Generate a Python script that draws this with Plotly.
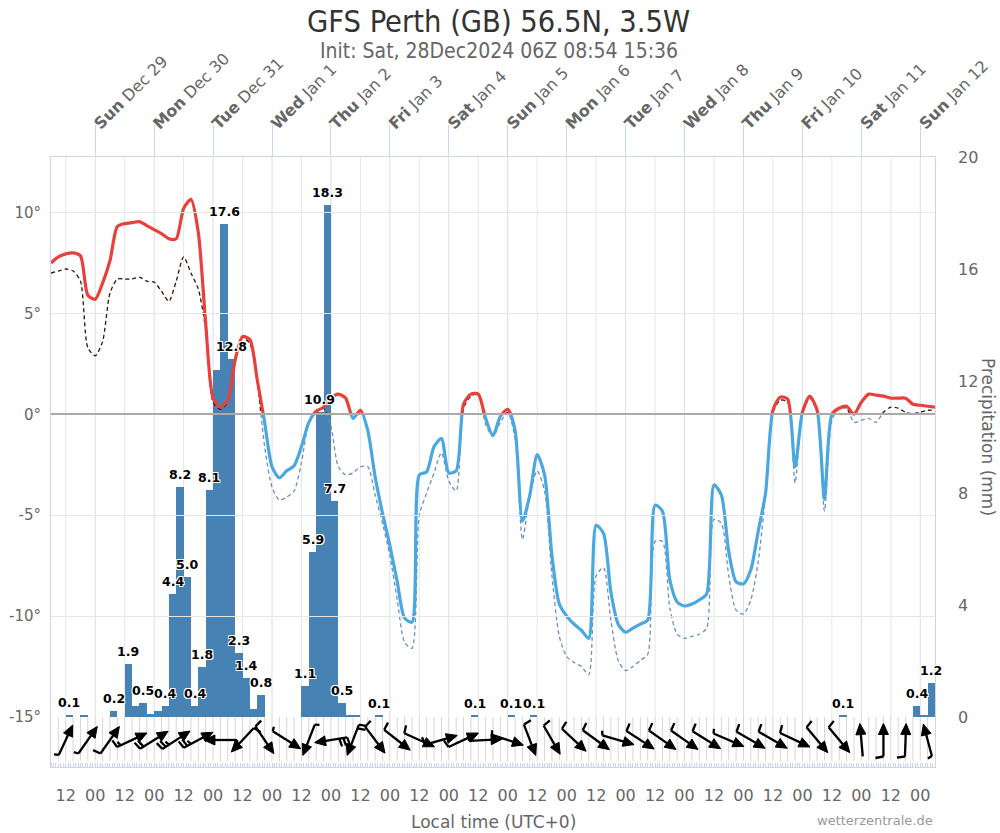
import math
import plotly.graph_objects as go

# ---------------- data ----------------
TITLE = "GFS Perth (GB) 56.5N, 3.5W"
SUBTITLE = "Init: Sat, 28Dec2024 06Z 08:54 15:36"
SOURCE = "wetterzentrale.de"
PRECIP_TITLE = "Precipitation (mm)"
TIME_TITLE = "Local time (UTC+0)"

# hours since init (Sat 28 Dec 2024 06Z), 3-hourly
step_h = 3
temp_c = [7.5, 7.8, 7.95, 8.0, 7.85, 5.9, 5.7, 6.5, 7.6, 9.3,
          9.45, 9.5, 9.55, 9.35, 9.15, 8.95, 8.7, 8.7, 10.2, 10.65,
          9.0, 4.5, 0.8, 0.35, 0.7, 2.7, 3.85, 3.7, 1.7, -0.4,
          -2.6, -3.15, -2.8, -2.55, -1.6, -0.4, 0.15, 0.35, 0.8, 1.0,
          0.8, -0.2, 0.2, -0.8, -3.1, -4.9, -6.5, -8.3, -10.1, -10.3,
          -3.0, -2.85, -1.6, -1.2, -2.9, -2.8, 0.5, 1.0, 1.0, -0.2,
          -1.05, -0.1, 0.25, -0.8, -5.3, -4.0, -2.0, -3.0, -7.0, -9.4,
          -10.0, -10.4, -10.7, -11.1, -5.5, -5.9, -8.8, -10.4, -10.8, -10.6,
          -10.4, -10.2, -4.5, -4.8, -8.2, -9.3, -9.5, -9.4, -9.2, -8.9,
          -3.5, -4.0, -6.8, -8.3, -8.4, -7.7, -5.8, -3.9, 0.2, 0.85,
          0.75, -2.6, 0.1, 0.9, 0.2, -4.2, 0.0, 0.3, 0.4, 0.0,
          0.6, 1.0, 0.95, 0.9, 0.8, 0.8, 0.8, 0.5, 0.45, 0.4,
          0.35]
dew_c = [7.0, 7.1, 7.2, 7.1, 6.6, 3.3, 2.9, 3.6, 6.0, 6.7,
         6.7, 6.7, 6.8, 6.6, 6.55, 6.1, 5.6, 6.6, 7.8, 7.0,
         6.2, 4.2, 0.6, 0.25, 0.6, 2.6, 3.8, 3.5, 1.6, -1.6,
         -3.6, -4.25, -4.1, -3.8, -2.4, -0.4, 0.1, 0.3, -0.6, -2.6,
         -3.0, -2.9, -2.6, -2.6, -4.0, -5.4, -7.0, -9.2, -11.3, -11.6,
         -5.0, -3.9, -2.9, -1.9, -3.3, -3.8, 0.3, 0.9, 1.0, -0.5,
         -1.1, -0.4, 0.1, -1.2, -6.2, -4.0, -2.8, -3.8, -8.0, -11.0,
         -12.0, -12.3, -12.5, -12.9, -8.0, -7.6, -10.2, -12.2, -12.7, -12.5,
         -12.2, -11.9, -6.3, -6.3, -9.6, -10.9, -11.1, -11.0, -10.9, -10.6,
         -5.2, -5.4, -8.0, -9.7, -9.9, -9.2, -7.3, -4.0, 0.1, 0.7,
         0.6, -3.4, 0.0, 0.8, 0.1, -4.8, -0.3, 0.3, 0.3, -0.4,
         -0.3, -0.2, -0.4, 0.1, 0.35, 0.3, 0.1, 0.03, 0.1, 0.2,
         0.2]
hours = [i * step_h for i in range(len(temp_c))]

# 3-hour precipitation totals (bar k covers hours 3k..3k+3)
precip_mm = [0, 0, 0.07, 0, 0.07, 0, 0, 0, 0.2, 0,
             1.9, 0.4, 0.5, 0.1, 0.2, 0.4, 4.4, 8.2, 5.0, 0.4,
             1.8, 8.1, 12.4, 17.6, 12.8, 2.3, 1.4, 0.3, 0.8, 0,
             0, 0, 0, 0, 1.1, 5.9, 10.9, 18.3, 7.7, 0.5,
             0.06, 0.06, 0, 0, 0.05, 0, 0, 0, 0, 0,
             0, 0, 0, 0, 0, 0, 0, 0.05, 0, 0,
             0, 0, 0.05, 0, 0, 0.05, 0, 0, 0, 0,
             0, 0, 0, 0, 0, 0, 0, 0, 0, 0,
             0, 0, 0, 0, 0, 0, 0, 0, 0, 0,
             0, 0, 0, 0, 0, 0, 0, 0, 0, 0,
             0, 0, 0, 0, 0, 0, 0, 0.05, 0, 0,
             0, 0, 0, 0, 0, 0, 0, 0.4, 0.06, 1.2]
bar_start_h = [k * step_h for k in range(len(precip_mm))]
labeled_bars = [2, 8, 10, 12, 15, 16, 17, 18, 19, 20, 21, 23, 24, 25, 26, 28,
                34, 35, 36, 37, 38, 39, 44, 57, 62, 65, 107, 117, 119]

# wind arrows (direction the arrow points to, degrees clockwise from north; speed in kt)
wind_hours = list(range(6, 360, 9))
wind_to_deg = [25, 35, 35, 65, 58, 57, 62, 270, 223, 146,
               122, 201, 261, 201, 143, 128, 114, 74, 65, 87,
               108, 159, 150, 133, 126, 106, 123, 125, 125, 122,
               113, 120, 120, 115, 140, 140, 355, 0, 2, 345]
wind_kt = [5, 5, 10, 15, 20, 25, 25, 10, 10, 10,
           5, 5, 30, 20, 10, 10, 10, 10, 10, 10,
           5, 10, 10, 10, 10, 5, 10, 10, 10, 10,
           5, 10, 10, 10, 10, 10, 3, 10, 10, 5]

# axis labels
time_tick_h = list(range(6, 360, 12))
time_tick_text = ["12" if i % 2 == 0 else "00" for i in range(len(time_tick_h))]
day_tick_h = list(range(18, 360, 24))
day_names = ["Sun", "Mon", "Tue", "Wed", "Thu", "Fri", "Sat",
             "Sun", "Mon", "Tue", "Wed", "Thu", "Fri", "Sat", "Sun"]
day_dates = ["Dec 29", "Dec 30", "Dec 31", "Jan 1", "Jan 2", "Jan 3", "Jan 4",
             "Jan 5", "Jan 6", "Jan 7", "Jan 8", "Jan 9", "Jan 10", "Jan 11", "Jan 12"]
temp_ticks = [-15, -10, -5, 0, 5, 10]
precip_ticks = [0, 4, 8, 12, 16, 20]

# ---------------- layout geometry ----------------
W, H = 1000, 833
ML, MR, MT, MB = 51, 65, 157, 66
PW, PH = W - ML - MR, H - MT - MB
STRIP = 50
d0 = STRIP / PH
T_MIN, T_MAX = -15, 12.75
f0 = d0 + (1 - d0) * (0 - T_MIN) / (T_MAX - T_MIN)
X_MAX = 360

RED = "#e8403a"
BLUE = "#4aa8de"
DEW_WARM = "#3a0c0c"
DEW_COLD = "#6b8ec0"
BAR = "rgb(70,130,180)"
AXC = "#ccd6eb"
FONT = "DejaVu Sans, Verdana, sans-serif"
COND = "DejaVu Sans Condensed, Liberation Sans Narrow, Roboto Condensed, DejaVu Sans, sans-serif"


def px_x(px):
    return (px - ML) / PW


def px_y(py):
    return (H - MB - py) / PH


fig = go.Figure()

# precipitation bars
fig.add_trace(go.Bar(x=bar_start_h, y=precip_mm, width=step_h, offset=0,
                     marker=dict(color=BAR, line=dict(width=0)),
                     xaxis="x", yaxis="y2", hoverinfo="skip", showlegend=False))
# dummy for top axis
fig.add_trace(go.Scatter(x=[0], y=[0], mode="markers", marker=dict(opacity=0),
                         xaxis="x2", yaxis="y", hoverinfo="skip", showlegend=False))

# temperature & dew point, clipped into warm (y4) and cold (y5) zones
for yax, ct, cd in (("y4", RED, DEW_WARM), ("y5", BLUE, DEW_COLD)):
    fig.add_trace(go.Scatter(x=hours, y=dew_c, mode="lines",
                             line=dict(color=cd, width=1.3, dash="4px,3px", shape="spline", smoothing=0.7),
                             xaxis="x", yaxis=yax, hoverinfo="skip", showlegend=False))
    fig.add_trace(go.Scatter(x=hours, y=temp_c, mode="lines",
                             line=dict(color=ct, width=3.2, shape="spline", smoothing=0.7),
                             xaxis="x", yaxis=yax, hoverinfo="skip", showlegend=False))

# wind arrows in the strip
kx = X_MAX / PW
L = 33
cy = 27
lines_x, lines_y, head_x, head_y = [], [], [], []
for t, d, s in zip(wind_hours, wind_to_deg, wind_kt):
    a = math.radians(d)
    ux, uy = math.sin(a), math.cos(a)
    lx, ly = -uy, ux

    def P(px, py, t=t):
        return t + px * kx, cy + py

    tail = (-ux * L / 2, -uy * L / 2)
    tip = (ux * L / 2, uy * L / 2)
    base = (tip[0] - 8 * ux, tip[1] - 8 * uy)
    for p in (tail, base):
        x_, y_ = P(*p)
        lines_x.append(x_); lines_y.append(y_)
    lines_x.append(None); lines_y.append(None)
    n_full, half = s // 10, (s % 10) >= 5
    lens = [8] * n_full + ([4.5] if half else [])
    for i, ln in enumerate(lens):
        sx, sy = tail[0] + i * 4 * ux, tail[1] + i * 4 * uy
        ex, ey = sx + ln * lx - 1.5 * ux, sy + ln * ly - 1.5 * uy
        for p in ((sx, sy), (ex, ey)):
            x_, y_ = P(*p)
            lines_x.append(x_); lines_y.append(y_)
        lines_x.append(None); lines_y.append(None)
    bx, by = tip[0] - 11 * ux, tip[1] - 11 * uy
    for p in (tip, (bx + 5 * lx, by + 5 * ly), (bx - 5 * lx, by - 5 * ly), tip):
        x_, y_ = P(*p)
        head_x.append(x_); head_y.append(y_)
    head_x.append(None); head_y.append(None)

fig.add_trace(go.Scatter(x=lines_x, y=lines_y, mode="lines", line=dict(color="black", width=2.3),
                         xaxis="x", yaxis="y3", hoverinfo="skip", showlegend=False))
fig.add_trace(go.Scatter(x=head_x, y=head_y, mode="lines", fill="toself", fillcolor="black",
                         line=dict(color="black", width=1),
                         xaxis="x", yaxis="y3", hoverinfo="skip", showlegend=False))

# grid lines (below everything)
shapes = []
for i, h in enumerate(time_tick_h):
    shapes.append(dict(type="line", xref="x", yref="paper", x0=h, x1=h, y0=d0, y1=1,
                       line=dict(color="#e6e6e6" if i % 2 == 0 else "#d9deec", width=1), layer="below"))
for h in range(3, X_MAX, 3):
    shapes.append(dict(type="line", xref="x", yref="paper", x0=h, x1=h, y0=0.01, y1=d0,
                       line=dict(color="#d6d6d6", width=1), layer="below"))

# bar labels
annotations = []
halo = "1px 1px 0 #fff, -1px -1px 0 #fff, 1px -1px 0 #fff, -1px 1px 0 #fff"
for k in labeled_bars:
    v = precip_mm[k]
    annotations.append(dict(x=bar_start_h[k] + step_h / 2, y=v, xref="x", yref="y2",
                            text=f"{max(v, 0.1):.1f}", showarrow=False, yanchor="bottom", yshift=3,
                            font=dict(family=FONT, size=12.5, color="black", weight="bold", shadow=halo)))
annotations += [
    dict(x=px_x(498), y=px_y(21), xref="paper", yref="paper", text=TITLE, showarrow=False,
         font=dict(family=COND, size=30.5, color="#333333"), yanchor="middle"),
    dict(x=px_x(499), y=px_y(51), xref="paper", yref="paper", text=SUBTITLE, showarrow=False,
         font=dict(family=COND, size=21, color="#666666"), yanchor="middle"),
    dict(x=0.5, y=px_y(822), xref="paper", yref="paper", text=TIME_TITLE,
         showarrow=False, font=dict(family=FONT, size=17, color="#666666"), yanchor="middle"),
    dict(x=1.0, y=px_y(820), xref="paper", yref="paper", text=SOURCE, showarrow=False,
         font=dict(family=FONT, size=13, color="#999999"), yanchor="middle", xanchor="right"),
    dict(x=px_x(988), y=px_y(437), xref="paper", yref="paper",
         text=PRECIP_TITLE, showarrow=False, textangle=90,
         font=dict(family=FONT, size=17, color="#666666"), xanchor="center", yanchor="middle"),
]

fig.update_layout(
    width=W, height=H, autosize=False,
    margin=dict(l=ML, r=MR, t=MT, b=MB, pad=0, autoexpand=False),
    paper_bgcolor="white", plot_bgcolor="rgba(0,0,0,0)",
    font=dict(family=FONT, color="#666666"),
    showlegend=False, bargap=0,
    shapes=shapes, annotations=annotations,
    xaxis=dict(domain=[0, 1], range=[0, X_MAX], anchor="y3", tickmode="array", automargin=False,
               tickvals=time_tick_h, ticktext=time_tick_text, showgrid=False, zeroline=False,
               showline=True, linecolor=AXC, ticks="", ticklabelstandoff=14,
               tickfont=dict(size=16, color="#666666"),
               minor=dict(tickmode="linear", tick0=0, dtick=1, ticks="inside", ticklen=4,
                          tickcolor=AXC, showgrid=False),
               fixedrange=True),
    xaxis2=dict(overlaying="x", side="top", anchor="y", range=[0, X_MAX], tickmode="array",
                automargin=False, tickvals=day_tick_h,
                ticktext=[f"<b>{n}</b> {dd}" for n, dd in zip(day_names, day_dates)],
                tickangle=-45, ticks="outside", ticklen=31, tickcolor=AXC, showgrid=False,
                zeroline=False, showline=True, linecolor=AXC, ticklabelstandoff=-14,
                tickfont=dict(size=16, color="#666666"), fixedrange=True),
    yaxis=dict(domain=[d0, 1], range=[T_MIN, T_MAX], anchor="x", tickmode="array", automargin=False,
               tickvals=temp_ticks, ticktext=[f"{v}°" for v in temp_ticks],
               showgrid=True, gridcolor="#e6e6e6", zeroline=True, zerolinecolor="#aaaaaa",
               zerolinewidth=2, showline=True, mirror=True, linecolor=AXC, ticks="",
               ticklabelstandoff=6, tickfont=dict(size=15, color="#666666"), fixedrange=True),
    yaxis2=dict(overlaying="y", side="right", anchor="x", range=[0, 20], tickmode="array",
                automargin=False, tickvals=precip_ticks, showgrid=False, zeroline=False,
                showline=False, ticks="", ticklabelstandoff=22,
                tickfont=dict(size=16, color="#666666"), fixedrange=True),
    yaxis3=dict(domain=[0, d0], range=[0, STRIP], anchor="x", showticklabels=False, showgrid=False,
                automargin=False, zeroline=False, showline=True, mirror=True, linecolor=AXC,
                ticks="", fixedrange=True),
    yaxis4=dict(domain=[f0, 1], range=[0, T_MAX], anchor="x", visible=False, fixedrange=True),
    yaxis5=dict(domain=[d0, f0], range=[T_MIN, 0], anchor="x", visible=False, fixedrange=True),
)

post = (
    "document.documentElement.style.margin='0px';"
    "document.body.style.margin='0px';"
)
fig.write_html("out.html", config={"responsive": False, "displayModeBar": False},
               default_width=f"{W}px", default_height=f"{H}px", post_script=post)
